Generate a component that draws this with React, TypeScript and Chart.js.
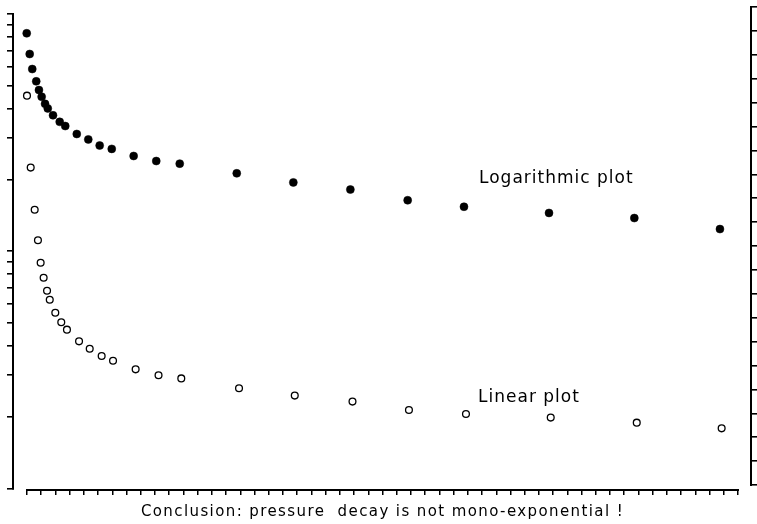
import React, { useEffect, useRef } from "react";
import { Chart, registerables } from "chart.js";

Chart.register(...registerables);

// ---- data ----
const logTimes = [
  -0.02, 0.19, 0.37, 0.65, 0.84, 1.03, 1.27, 1.46, 1.83, 2.3, 2.69, 3.5, 4.31,
  5.11, 5.96, 7.5, 9.09, 10.74, 14.75, 18.73, 22.74, 26.77, 30.73, 36.71, 42.71, 48.73,
];
const logValues = [
  82.9, 67.8, 58.6, 52.0, 47.8, 44.8, 41.8, 40.0, 37.4, 35.1, 33.7, 31.2, 29.6,
  27.9, 27.0, 25.2, 24.0, 23.4, 21.3, 19.5, 18.2, 16.4, 15.4, 14.5, 13.8, 12.4,
];
const linTimes = [
  0.0, 0.26, 0.54, 0.77, 0.96, 1.17, 1.41, 1.6, 1.99, 2.41, 2.81, 3.66, 4.41,
  5.25, 6.05, 7.64, 9.25, 10.85, 14.91, 18.83, 22.89, 26.86, 30.87, 36.83, 42.88, 48.85,
];
const linValues = [
  16.29, 13.28, 11.52, 10.24, 9.3, 8.67, 8.13, 7.75, 7.21, 6.81, 6.5, 6.01, 5.7,
  5.4, 5.2, 4.84, 4.59, 4.46, 4.05, 3.74, 3.49, 3.14, 2.97, 2.82, 2.61, 2.37,
];

// tick values
const logTicks = [1, 2, 3, 4, 5, 6, 7, 8, 9, 10, 20, 30, 40, 50, 60, 70, 80, 90, 100];
const linTicks = Array.from({ length: 21 }, (_, i) => i);
const xTicks = Array.from({ length: 51 }, (_, i) => i);

// texts
const xTitle = "Conclusion: pressure  decay is not mono-exponential !";
const labelTexts = ["Logarithmic plot", "Linear plot"];
const labelX = [31.79, 31.72];
const labelY = [19.4, 3.47];
const labelAxis = ["yLog", "yLin"];

const FONT = "'DejaVu Sans', sans-serif";

const axisLinesPlugin = {
  id: "axisLines",
  afterDraw(chart: any) {
    const { ctx, chartArea, scales } = chart;
    ctx.save();
    ctx.strokeStyle = "#000";
    ctx.lineWidth = 2;
    ctx.lineCap = "butt";
    // left log axis
    const yL = scales.yLog;
    ctx.beginPath();
    ctx.moveTo(chartArea.left - 1, yL.getPixelForValue(logTicks[logTicks.length - 1]) - 1);
    ctx.lineTo(chartArea.left - 1, yL.getPixelForValue(logTicks[0]) + 1);
    ctx.stroke();
    // right linear axis
    const yR = scales.yLin;
    ctx.beginPath();
    ctx.moveTo(chartArea.right + 1, yR.getPixelForValue(linTicks[linTicks.length - 1]) - 1);
    ctx.lineTo(chartArea.right + 1, yR.getPixelForValue(linTicks[0]) + 1);
    ctx.stroke();
    // bottom axis
    const xs = scales.x;
    const x0 = xs.getPixelForValue(xTicks[0]);
    const x1 = xs.getPixelForValue(xTicks[xTicks.length - 1]);
    ctx.beginPath();
    ctx.moveTo(x0 - 1, chartArea.bottom + 1);
    ctx.lineTo(x1 + 1, chartArea.bottom + 1);
    ctx.stroke();

    // annotations
    ctx.fillStyle = "#000";
    ctx.font = `17px ${FONT}`;
    ctx.textBaseline = "alphabetic";
    ctx.textAlign = "left";
    (ctx as any).letterSpacing = "1px";
    labelTexts.forEach((t, i) => {
      const px = xs.getPixelForValue(labelX[i]);
      const py = scales[labelAxis[i]].getPixelForValue(labelY[i]);
      ctx.fillText(t, px, py);
    });

    // x-axis caption
    ctx.font = `15px ${FONT}`;
    (ctx as any).letterSpacing = "1.4px";
    ctx.textAlign = "center";
    ctx.fillText(xTitle, (x0 + x1) / 2, xs.bottom - 8);
    ctx.restore();
  },
};

export default function App() {
  const ref = useRef<HTMLCanvasElement | null>(null);
  useEffect(() => {
    document.body.style.margin = "0";
    const canvas = ref.current!;
    const chart = new Chart(canvas, {
      type: "scatter",
      data: {
        datasets: [
          {
            label: "Logarithmic plot",
            data: logTimes.map((t, i) => ({ x: t, y: logValues[i] })),
            yAxisID: "yLog",
            pointRadius: 4,
            pointBackgroundColor: "#000",
            pointBorderColor: "#000",
            pointBorderWidth: 0.5,
          },
          {
            label: "Linear plot",
            data: linTimes.map((t, i) => ({ x: t, y: linValues[i] })),
            yAxisID: "yLin",
            pointRadius: 3.4,
            pointBackgroundColor: "#fff",
            pointBorderColor: "#000",
            pointBorderWidth: 1.3,
          },
        ],
      },
      options: {
        animation: false,
        responsive: false,
        maintainAspectRatio: false,
        layout: { padding: { top: 7, left: 0, right: 0, bottom: 0 } },
        plugins: {
          legend: { display: false },
          tooltip: { enabled: false },
        },
        scales: {
          x: {
            type: "linear",
            position: "bottom",
            min: -0.914,
            max: 50.844,
            afterBuildTicks: (s: any) => {
              s.ticks = xTicks.map((v) => ({ value: v }));
            },
            afterFit: (s: any) => {
              s.height = 35;
            },
            ticks: { display: false },
            grid: {
              drawOnChartArea: false,
              drawTicks: true,
              tickLength: 6,
              color: "#000",
              lineWidth: 1.5,
            },
            border: { display: false },
          },
          yLog: {
            type: "logarithmic",
            position: "left",
            min: 0.995,
            max: 107,
            afterBuildTicks: (s: any) => {
              s.ticks = logTicks.map((v) => ({ value: v }));
            },
            afterFit: (s: any) => {
              s.width = 14;
            },
            ticks: { display: false },
            grid: {
              drawOnChartArea: false,
              drawTicks: true,
              tickLength: 7,
              color: "#000",
              lineWidth: 1.6,
            },
            border: { display: false },
          },
          yLin: {
            type: "linear",
            position: "right",
            min: -0.167,
            max: 20,
            afterBuildTicks: (s: any) => {
              s.ticks = linTicks.map((v) => ({ value: v }));
            },
            afterFit: (s: any) => {
              s.width = 7;
            },
            ticks: { display: false },
            grid: {
              drawOnChartArea: false,
              drawTicks: true,
              tickLength: 7,
              color: "#000",
              lineWidth: 1.6,
            },
            border: { display: false },
          },
        },
      },
      plugins: [axisLinesPlugin],
    } as any);
    return () => chart.destroy();
  }, []);

  return (
    <div style={{ position: "absolute", left: 0, top: 0, width: 757, height: 524, background: "#fff" }}>
      <canvas ref={ref} width={757} height={524} style={{ display: "block", width: 757, height: 524 }} />
    </div>
  );
}
